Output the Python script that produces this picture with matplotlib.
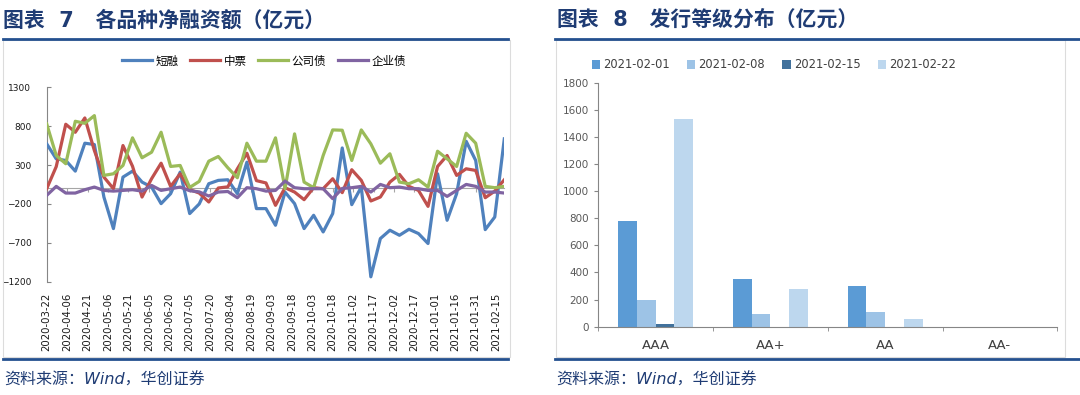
import matplotlib
matplotlib.use('Agg')
import matplotlib.pyplot as plt
import numpy as np
import pandas as pd

plt.rcParams['font.family'] = ['DejaVu Sans', 'Noto Sans CJK SC']

# ---- chart 7: weekly net financing by product (亿元)
dates = pd.date_range('2020-03-22', periods=49, freq='7D')
label_dates = pd.date_range('2020-03-22', '2021-02-15', freq='15D')

duanrong = [573, 380, 359, 222, 581, 564, -111, -517, 145, 222, 81, 17, -196, -68, 209, -324,
            -200, 60, 103, 111, -68, 337, -260, -260, -474, -47, -196, -517, -346, -560, -324, 520,
            -209, 17, -1137, -645, -538, -603, -526, -581, -709, 188, -410, -68, 606, 359, -530, -368, 637]
zhongpiao = [-4, 280, 825, 722, 906, 487, 145, -4, 551, 285, -111, 124, 324, 25, 188, -15,
             -60, -175, 5, 20, 252, 452, 100, 70, -218, 9, -47, -145, 9, -4, 124, -55,
             240, 103, -162, -111, 81, 180, 26, -26, -231, 282, 423, 167, 252, 231, -120, -35, 111]
gongsizhai = [829, 423, 317, 863, 837, 936, 167, 188, 295, 650, 394, 465, 722, 282, 295, 12,
              90, 350, 410, 265, 137, 581, 350, 350, 650, -4, 701, 81, 9, 423, 752, 748,
              359, 752, 573, 324, 445, 81, 60, 111, 17, 478, 380, 282, 709, 581, 26, 9, 26]
qiyezhai = [-90, 26, -60, -60, -17, 17, -26, -35, -26, -17, -35, 38, -26, -4, 17, -30,
            -45, -98, -47, -40, -120, 9, -4, -35, -26, 94, 9, -4, -4, -4, -132, 0,
            9, 26, -47, 51, 9, 17, -4, -4, -26, -26, -103, -26, 51, 26, -47, -47, -60]

# ---- chart 8: issuance by rating (亿元)
grades = ['AAA', 'AA+', 'AA', 'AA-']
weeks = ['2021-02-01', '2021-02-08', '2021-02-15', '2021-02-22']
w0201 = [780, 352, 302, 0]
w0208 = [195, 91, 110, 0]
w0215 = [18, 0, 0, 0]
w0222 = [1535, 275, 60, 0]

W, H = 1080, 395
fig = plt.figure(figsize=(W / 100, H / 100), dpi=100)

def fx(px):
    return px / W

def fy(py):
    return 1 - py / H

navy = '#1f3c74'
rule = '#24508f'

# titles, rules, frames, sources
fig.text(fx(3), fy(20), '图表  7   各品种净融资额（亿元）', fontsize=15, fontweight='bold',
         color=navy, va='center', ha='left')
fig.text(fx(557), fy(20), '图表  8   发行等级分布（亿元）', fontsize=15, fontweight='bold',
         color=navy, va='center', ha='left')
for x0, x1 in [(3, 508), (555, 1080)]:
    fig.add_artist(plt.Line2D([fx(x0), fx(x1)], [fy(38.5)] * 2, color=rule, lw=2))
    fig.add_artist(plt.Line2D([fx(x0), fx(x1)], [fy(358.5)] * 2, color=rule, lw=2))
for x0, x1 in [(3, 509.5), (555.5, 1064.5)]:
    fig.add_artist(plt.Rectangle((fx(x0), fy(357)), fx(x1) - fx(x0), fy(40) - fy(357),
                                 transform=fig.transFigure, fill=False, ec='#dcdcdc', lw=0.8))
fig.text(fx(4), fy(380), '资料来源：Wind，华创证券', fontsize=11.5, style='italic',
         color=navy, va='center', ha='left')
fig.text(fx(556), fy(380), '资料来源：Wind，华创证券', fontsize=11.5, style='italic',
         color=navy, va='center', ha='left')

# ---- left chart
ax1 = fig.add_axes([fx(46.7), fy(281.7), fx(504.3) - fx(46.7), fy(87.3) - fy(281.7)])
xd = (dates - dates[0]).days
xt = (label_dates - dates[0]).days

series = [('短融', duanrong, '#4F81BD'), ('中票', zhongpiao, '#C0504D'),
          ('公司债', gongsizhai, '#9BBB59'), ('企业债', qiyezhai, '#8064A2')]
for name, vals, col in series:
    ax1.plot(xd, vals, color=col, lw=2.3, label=name, zorder=3)

ax1.set_xlim(0, 336)
ax1.set_ylim(-1200, 1300)
ax1.set_yticks(np.arange(-1200, 1301, 500))
ax1.tick_params(axis='y', direction='in', length=3, pad=11, labelsize=6.5,
                colors='#868686', labelcolor='#1a1a1a')
for s in ['top', 'right']:
    ax1.spines[s].set_visible(False)
ax1.spines['left'].set_color('#868686')
ax1.spines['bottom'].set_position(('data', 0))
ax1.spines['bottom'].set_color('#a6a6a6')
ax1.set_xticks(xt)
ax1.tick_params(axis='x', direction='out', length=3, colors='#a6a6a6', labelbottom=False)
sec = ax1.secondary_xaxis(0)
sec.set_xticks(xt, labels=[d.strftime('%Y-%m-%d') for d in label_dates])
sec.tick_params(length=0, pad=8, labelsize=7.3, rotation=90, labelcolor='#1a1a1a')
sec.spines['bottom'].set_visible(False)

fig.legend(*ax1.get_legend_handles_labels(), loc='center', bbox_to_anchor=(fx(264), fy(61)),
           ncol=4, frameon=False, fontsize=8.3, handlelength=2.6, handletextpad=0.3,
           columnspacing=1.0)

# ---- right chart
ax2 = fig.add_axes([fx(598.3), fy(326.7), fx(1057.3) - fx(598.3), fy(82.7) - fy(326.7)])
bw = 0.163
cols = ['#5B9BD5', '#9DC3E6', '#41719C', '#BDD7EE']
xs = np.arange(len(grades))
for i, (lab, vals) in enumerate(zip(weeks, [w0201, w0208, w0215, w0222])):
    ax2.bar(xs + (i - 1.5) * bw, vals, bw, color=cols[i], label=lab, zorder=2)
ax2.set_xlim(-0.5, 3.5)
ax2.set_ylim(0, 1800)
ax2.set_yticks(np.arange(0, 1801, 200))
ax2.set_xticks(xs, labels=grades)
ax2.set_xticks(np.arange(-0.5, 3.6, 1), minor=True)
ax2.tick_params(axis='x', which='major', length=0, pad=9, labelsize=9.5, labelcolor='#404040')
ax2.tick_params(axis='x', which='minor', length=3, direction='out', colors='#868686')
ax2.tick_params(axis='y', direction='out', length=3, pad=4, labelsize=7.5,
                colors='#868686', labelcolor='#595959')
for s in ['top', 'right']:
    ax2.spines[s].set_visible(False)
ax2.spines['left'].set_color('#868686')
ax2.spines['bottom'].set_color('#868686')

fig.legend(*ax2.get_legend_handles_labels(), loc='center', bbox_to_anchor=(fx(774), fy(65)),
           ncol=4, frameon=False, fontsize=8.3, handlelength=0.7, handleheight=0.7,
           handletextpad=0.3, columnspacing=1.5, labelcolor='#404040')

fig.savefig('out.png', dpi=100)
